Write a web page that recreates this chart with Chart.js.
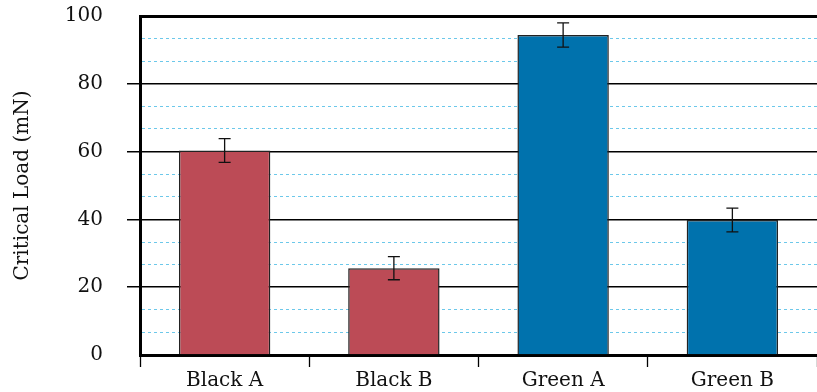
<!DOCTYPE html>
<html>
<head>
<meta charset="utf-8">
<script src="https://cdn.jsdelivr.net/npm/chart.js@4/dist/chart.umd.min.js"></script>
<style>
  html, body { margin: 0; padding: 0; background: #fff; }
  #wrap { width: 817px; height: 392px; }
</style>
</head>
<body>
<div id="wrap"><canvas id="loadChart"></canvas></div>
<script>
const samples = ['Black A', 'Black B', 'Green A', 'Green B'];
const criticalLoad = [60.3, 25.6, 94.4, 39.8];
const loadError = [3.5, 3.4, 3.6, 3.5];
const barColors = ['#bc4b56', '#bc4b56', '#0072ad', '#0072ad'];
const majorTicks = [0, 20, 40, 60, 80, 100];
const minorPerMajor = 3;

const FONT = { family: '"DejaVu Serif", serif', size: 20 };

// major ticks plus 2 minor ones in each gap
const yTicks = [];
majorTicks.forEach((v, i) => {
    yTicks.push(v);
    if (i < majorTicks.length - 1) {
        const step = (majorTicks[i + 1] - v) / minorPerMajor;
        for (let k = 1; k < minorPerMajor; k++) yTicks.push(v + step * k);
    }
});
const isMajor = v => majorTicks.some(m => Math.abs(m - v) < 1e-6);

// Error bars plugin
const errorBars = {
    id: 'errorBars',
    afterDraw(chart) {
        const ctx = chart.ctx;
        const y = chart.scales.y;
        const meta = chart.getDatasetMeta(0);
        ctx.save();
        ctx.strokeStyle = '#111';
        ctx.lineWidth = 1.3;
        meta.data.forEach((bar, i) => {
            const top = y.getPixelForValue(criticalLoad[i] + loadError[i]);
            const bot = y.getPixelForValue(criticalLoad[i] - loadError[i]);
            ctx.beginPath();
            ctx.moveTo(bar.x, top); ctx.lineTo(bar.x, bot);
            ctx.moveTo(bar.x - 6, top); ctx.lineTo(bar.x + 6, top);
            ctx.moveTo(bar.x - 6, bot); ctx.lineTo(bar.x + 6, bot);
            ctx.stroke();
        });
        ctx.restore();
    }
};

new Chart(document.getElementById('loadChart'), {
    type: 'bar',
    data: {
        labels: samples,
        datasets: [{
            data: criticalLoad,
            backgroundColor: barColors,
            borderColor: '#222',
            borderWidth: 1.5,
            barPercentage: 0.54,
            categoryPercentage: 1.0
        }]
    },
    options: {
        responsive: true,
        maintainAspectRatio: false,
        animation: false,
        layout: { padding: 0 },
        plugins: { legend: { display: false }, tooltip: { enabled: false } },
        scales: {
            x: {
                z: 1,
                grid: { offset: true, drawOnChartArea: false, tickLength: 12, tickColor: '#000', tickWidth: 1.3 },
                border: { color: '#000', width: 3 },
                ticks: { font: FONT, color: '#111', padding: 2 },
                afterFit: s => { s.height = 37; }
            },
            y: {
                z: 1,
                min: 0,
                max: 100,
                afterBuildTicks: s => { s.ticks = yTicks.map(v => ({ value: v })); },
                afterFit: s => { s.width = 140; s.paddingTop = 16; s.paddingBottom = 0; },
                grid: {
                    color: c => (c.tick && !isMajor(c.tick.value)) ? '#6cc8ea' : '#000',
                    lineWidth: c => !c.tick ? 1 : (c.tick.value === 100 ? 3 : (isMajor(c.tick.value) ? 1.5 : 1)),
                    tickColor: c => (c.tick && isMajor(c.tick.value) && c.tick.value !== 0 && c.tick.value !== 100) ? '#000' : 'rgba(0,0,0,0)',
                    tickLength: 13,
                    tickWidth: 1.5
                },
                border: {
                    color: '#000',
                    width: 3,
                    dash: c => (c.tick && !isMajor(c.tick.value)) ? [3, 3] : []
                },
                ticks: {
                    autoSkip: false,
                    font: FONT,
                    color: '#111',
                    padding: 24,
                    callback: v => isMajor(v) ? Math.round(v) : ''
                },
                title: {
                    display: true,
                    text: 'Critical Load (mN)',
                    font: FONT,
                    color: '#111',
                    padding: { top: 11, bottom: 0 }
                }
            }
        }
    },
    plugins: [errorBars]
});
</script>
</body>
</html>
